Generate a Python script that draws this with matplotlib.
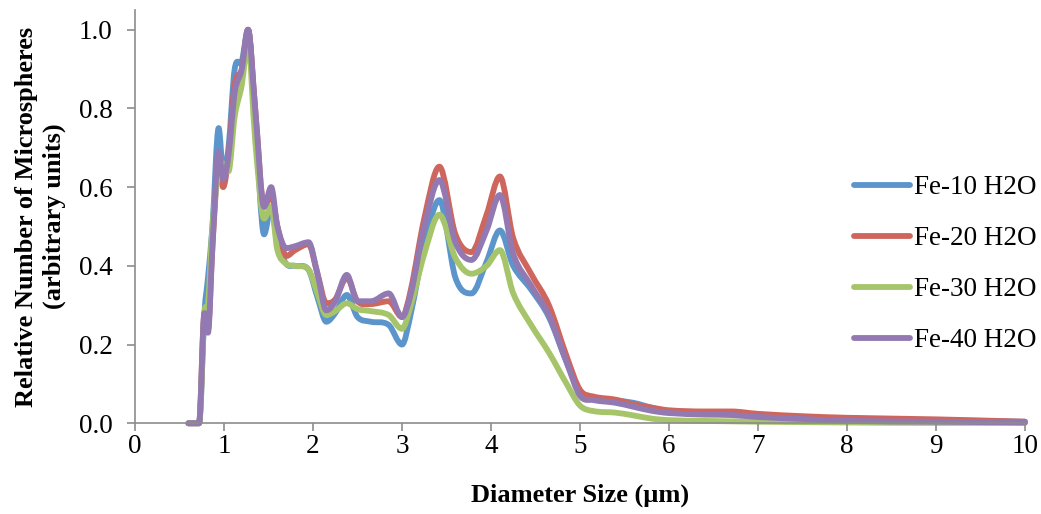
import numpy as np
import matplotlib
matplotlib.use("Agg")
import matplotlib.pyplot as plt
from matplotlib.path import Path
from matplotlib.patches import PathPatch
from matplotlib.lines import Line2D

plt.rcParams['font.family'] = ['Liberation Serif', 'DejaVu Serif']

# diameter (um)
diameter = [0.6, 0.72, 0.78, 0.82, 0.87, 0.94, 0.99, 1.05, 1.12, 1.2, 1.27,
            1.35, 1.45, 1.53, 1.6, 1.7, 1.8, 1.95, 2.05, 2.15, 2.25, 2.38,
            2.5, 2.65, 2.85, 3.0, 3.1, 3.25, 3.42, 3.6, 3.78, 3.95, 4.1,
            4.25, 4.45, 4.65, 4.85, 5.0, 5.15, 5.4, 5.6, 5.8, 6.0, 6.4, 6.7,
            7.0, 7.5, 8.0, 9.0, 10.0]

fe10 = [0, 0, 0.28, 0.37, 0.50, 0.75, 0.64, 0.70, 0.90, 0.92, 1.0,
        0.78, 0.48, 0.55, 0.46, 0.405, 0.40, 0.39, 0.32, 0.258, 0.28, 0.326,
        0.27, 0.258, 0.25, 0.20, 0.28, 0.45, 0.567, 0.37, 0.33, 0.41, 0.49,
        0.40, 0.34, 0.27, 0.155, 0.08, 0.065, 0.058, 0.052, 0.040, 0.030, 0.026, 0.025,
        0.020, 0.016, 0.012, 0.008, 0.004]

fe20 = [0, 0, 0.28, 0.24, 0.45, 0.66, 0.60, 0.68, 0.86, 0.90, 1.0,
        0.80, 0.55, 0.58, 0.50, 0.425, 0.44, 0.455, 0.38, 0.305, 0.315, 0.37,
        0.31, 0.303, 0.31, 0.27, 0.34, 0.52, 0.652, 0.48, 0.435, 0.53, 0.627,
        0.47, 0.38, 0.30, 0.17, 0.085, 0.068, 0.060, 0.048, 0.040, 0.033, 0.030, 0.030,
        0.024, 0.018, 0.014, 0.010, 0.004]

fe30 = [0, 0, 0.28, 0.30, 0.50, 0.64, 0.66, 0.64, 0.78, 0.86, 0.97,
        0.72, 0.52, 0.55, 0.44, 0.405, 0.40, 0.39, 0.33, 0.275, 0.285, 0.305,
        0.29, 0.285, 0.275, 0.24, 0.30, 0.43, 0.53, 0.42, 0.38, 0.40, 0.44,
        0.33, 0.25, 0.18, 0.10, 0.045, 0.031, 0.027, 0.020, 0.012, 0.008, 0.006, 0.005,
        0.004, 0.003, 0.002, 0.001, 0.001]

fe40 = [0, 0, 0.28, 0.23, 0.45, 0.69, 0.62, 0.68, 0.84, 0.90, 1.0,
        0.80, 0.55, 0.60, 0.50, 0.445, 0.45, 0.46, 0.38, 0.287, 0.31, 0.377,
        0.31, 0.31, 0.33, 0.27, 0.33, 0.50, 0.618, 0.46, 0.415, 0.49, 0.58,
        0.43, 0.35, 0.275, 0.155, 0.07, 0.059, 0.052, 0.042, 0.032, 0.026, 0.022, 0.021,
        0.016, 0.011, 0.006, 0.004, 0.002]

labels = ['Fe-10 H2O', 'Fe-20 H2O', 'Fe-30 H2O', 'Fe-40 H2O']
colors = ['#5B95CB', '#CE665D', '#A6C46A', '#9379B2']


def smooth_path(x, y):
    """Cubic Hermite curve through the points, as Bezier segments."""
    x = np.asarray(x, float)
    y = np.asarray(y, float)
    n = len(x)
    sec = np.diff(y) / np.diff(x)
    m = np.zeros(n)
    m[0] = sec[0]
    m[-1] = sec[-1]
    m[1:-1] = (y[2:] - y[:-2]) / (x[2:] - x[:-2])
    # flat tangent where the curve turns or starts from a flat run
    flat = (sec[:-1] * sec[1:]) <= 0
    m[1:-1][flat] = 0
    verts = [(x[0], y[0])]
    codes = [Path.MOVETO]
    for i in range(n - 1):
        dx = x[i + 1] - x[i]
        verts += [(x[i] + dx / 3, y[i] + m[i] * dx / 3),
                  (x[i + 1] - dx / 3, y[i + 1] - m[i + 1] * dx / 3),
                  (x[i + 1], y[i + 1])]
        codes += [Path.CURVE4] * 3
    return Path(verts, codes)


fig = plt.figure(figsize=(10.41, 5.14), dpi=100)
ax = fig.add_axes([0.1297, 0.1765, 0.8549, 0.804])

lw = 4.2
handles = []
for ys, lab, col in zip([fe10, fe20, fe30, fe40], labels, colors):
    patch = PathPatch(smooth_path(diameter, ys), facecolor='none', edgecolor=col,
                      lw=lw, joinstyle='round', capstyle='round', clip_on=False)
    ax.add_patch(patch)
    handles.append(Line2D([], [], color=col, lw=lw, solid_capstyle='round', label=lab))

ax.set_xlim(0, 10)
ax.set_ylim(0, 1.05)
ax.set_xticks(range(0, 11))
ax.set_yticks([0, 0.2, 0.4, 0.6, 0.8, 1.0])
ax.set_yticklabels(['0.0', '0.2', '0.4', '0.6', '0.8', '1.0'])

for s in ['top', 'right']:
    ax.spines[s].set_visible(False)
for s in ['left', 'bottom']:
    ax.spines[s].set_color('#8C8C8C')
    ax.spines[s].set_linewidth(1.2)
ax.tick_params(axis='both', direction='out', length=6, width=1.2, color='#8C8C8C',
               labelsize=19.5)
ax.tick_params(axis='x', pad=1.5)
ax.tick_params(axis='y', pad=10)

ax.set_xlabel('Diameter Size (µm)', fontsize=19, fontweight='bold', labelpad=18)
ax.set_ylabel('Relative Number of Microspheres\n(arbitrary units)', fontsize=19,
              fontweight='bold', labelpad=9, linespacing=1.3)

ax.legend(handles=handles, loc='center left', bbox_to_anchor=(0.781, 0.385), frameon=False,
          fontsize=19.5, handlelength=2.05, labelspacing=0.96, handletextpad=0.15)

fig.savefig('out.png', dpi=100)
